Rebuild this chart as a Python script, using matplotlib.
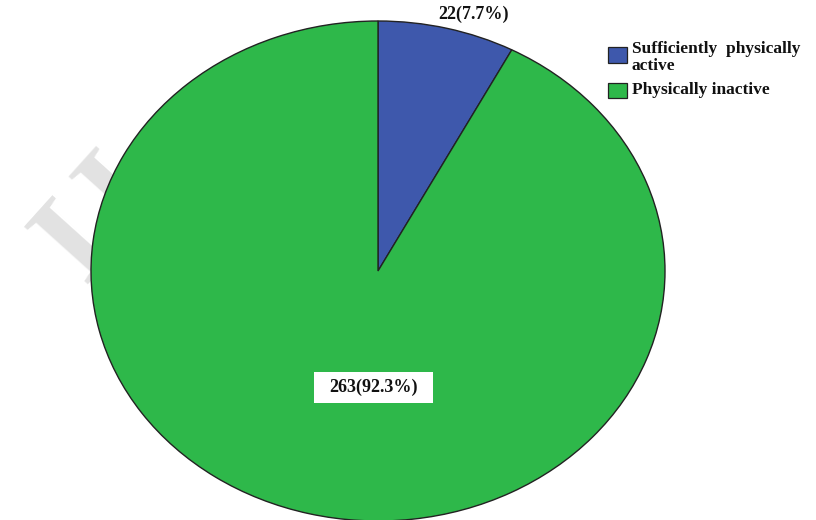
import matplotlib
matplotlib.use("Agg")
import matplotlib.pyplot as plt
from matplotlib.patches import Rectangle

categories = ["Sufficiently  physically active", "Physically inactive"]
counts = [22, 263]
percents = [7.7, 92.3]
colors = ["#3E58AC", "#2EB84A"]

plt.rcParams['font.family'] = ['Liberation Serif', 'DejaVu Serif']

W, H = 816, 520
fig = plt.figure(figsize=(W / 100, H / 100), dpi=100)
fig.patch.set_facecolor("white")

def fx(x):
    return x / W

def fy(y):
    return 1 - y / H

# faint watermark behind the pie
fig.text(fx(100), fy(220), "IJ", fontsize=95, color="#E2E2E2", rotation=48,
         ha="center", va="center", fontweight="bold", zorder=-5)

# pie axes placed at pixel bounds (elliptical pie)
left, right, top, bottom = 91, 665, 21, 521
ax = fig.add_axes([fx(left), fy(bottom), (right - left) / W, (bottom - top) / H])
ax.set_zorder(1)
ax.patch.set_alpha(0)
wedges, _ = ax.pie(counts, colors=colors, startangle=90, counterclock=False,
                   wedgeprops=dict(edgecolor="#222222", linewidth=1.0))
ax.set_aspect("auto")
ax.set_xlim(-1, 1)
ax.set_ylim(-1, 1)
ax.axis("off")

fs = 13
# small slice label (outside, top)
fig.text(fx(473), fy(19), f"{counts[0]}({percents[0]}%)", ha="center", va="baseline",
         fontsize=fs, fontweight="bold", color="#111111", zorder=3)
# large slice label with white box
fig.patches.append(Rectangle((fx(314), fy(403)), (433 - 314) / W, (403 - 372) / H,
                             transform=fig.transFigure, facecolor="white",
                             edgecolor="none", zorder=2))
fig.text(fx(373), fy(392), f"{counts[1]}({percents[1]}%)", ha="center", va="baseline",
         fontsize=fs, fontweight="bold", color="#111111", zorder=3)

# legend
lfs = 12.5
sq = [(47, 63), (83, 98)]
lines = [[("Sufficiently  physically", 53), ("active", 70)], [(categories[1], 94)]]
for (y0, y1), col, labs in zip(sq, colors, lines):
    fig.patches.append(Rectangle((fx(608), fy(y1)), 19 / W, (y1 - y0) / H,
                                 transform=fig.transFigure, facecolor=col,
                                 edgecolor="#222222", linewidth=0.9, zorder=2))
    for txt, yb in labs:
        fig.text(fx(632), fy(yb), txt, ha="left", va="baseline", fontsize=lfs,
                 fontweight="bold", color="#111111", zorder=3)

fig.savefig("out.png", dpi=100, facecolor="white")
